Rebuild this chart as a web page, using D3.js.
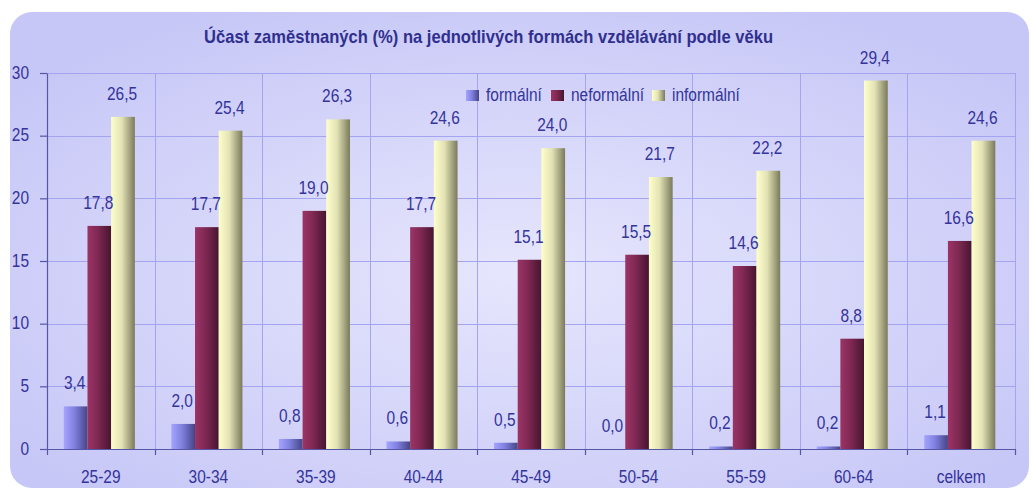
<!DOCTYPE html>
<html>
<head>
<meta charset="utf-8">
<script src="https://cdn.jsdelivr.net/npm/d3@7"></script>
<style>
  html, body { margin: 0; padding: 0; background: #ffffff; }
  svg { display: block; font-family: "Liberation Sans", Arial, sans-serif; }
</style>
</head>
<body>
<div id="chart"></div>
<script>
// data
const categories = ["25-29", "30-34", "35-39", "40-44", "45-49", "50-54", "55-59", "60-64", "celkem"];
const seriesNames = ["formální", "neformální", "informální"];
const formalni = [3.4, 2.0, 0.8, 0.6, 0.5, 0.0, 0.2, 0.2, 1.1];
const neformalni = [17.8, 17.7, 19.0, 17.7, 15.1, 15.5, 14.6, 8.8, 16.6];
const informalni = [26.5, 25.4, 26.3, 24.6, 24.0, 21.7, 22.2, 29.4, 24.6];
const yTicks = [0, 5, 10, 15, 20, 25, 30];
const title = "Účast zaměstnaných (%) na jednotlivých formách vzdělávání podle věku";

const seriesValues = [formalni, neformalni, informalni];

const width = 1032, height = 488;
const margin = { top: 73, right: 17, bottom: 39, left: 47 };
const textColor = "#34349a";
const sx = 0.86; // horizontal squeeze of the text, the reference font is narrow
const fs = 18;

const svg = d3.select("#chart").append("svg")
    .attr("width", width)
    .attr("height", height);

const defs = svg.append("defs");

const bg = defs.append("radialGradient")
    .attr("id", "bg")
    .attr("cx", "50%").attr("cy", "55%").attr("r", "65%");
bg.append("stop").attr("offset", "0%").attr("stop-color", "#e6e6fd");
bg.append("stop").attr("offset", "100%").attr("stop-color", "#c6c6f7");

const barColors = [
    ["#a4a4ff", "#8080e0", "#454585"],
    ["#9c3466", "#7e2852", "#471530"],
    ["#ffffcc", "#e2e2b4", "#7a7a5c"]
];
barColors.forEach((c, i) => {
    const g = defs.append("linearGradient")
        .attr("id", "bar" + i)
        .attr("x1", "0%").attr("x2", "100%").attr("y1", "0%").attr("y2", "0%");
    g.append("stop").attr("offset", "0%").attr("stop-color", c[0]);
    g.append("stop").attr("offset", "45%").attr("stop-color", c[1]);
    g.append("stop").attr("offset", "100%").attr("stop-color", c[2]);
});

// background panel
svg.append("rect")
    .attr("x", 10).attr("y", 12)
    .attr("width", 1019).attr("height", 476)
    .attr("rx", 22).attr("ry", 22)
    .attr("fill", "url(#bg)");

function addText(parent, x, y, str, anchor) {
    return parent.append("text")
        .attr("transform", `translate(${x},${y}) scale(${sx},1)`)
        .attr("text-anchor", anchor)
        .attr("font-size", fs)
        .attr("fill", textColor)
        .text(str);
}

// title
svg.append("text")
    .attr("x", 488.5)
    .attr("y", 43)
    .attr("text-anchor", "middle")
    .attr("font-size", 19)
    .attr("font-weight", "bold")
    .attr("fill", "#30308e")
    .attr("textLength", 569)
    .attr("lengthAdjust", "spacingAndGlyphs")
    .text(title);

const plotW = width - margin.left - margin.right;
const plotH = height - margin.top - margin.bottom;

const x = d3.scaleBand()
    .domain(categories)
    .range([margin.left, margin.left + plotW])
    .padding(0);

const xs = d3.scaleBand()
    .domain(seriesNames)
    .range([0, x.bandwidth()])
    .paddingInner(0)
    .paddingOuter(0.77)
    .align(0.46);

const y = d3.scaleLinear()
    .domain([0, 30])
    .range([margin.top + plotH, margin.top]);

// grid
const grid = svg.append("g").attr("stroke", "#a4a4f0").attr("stroke-width", 1);
grid.selectAll(".hg")
    .data(yTicks.filter(d => d > 0))
    .enter().append("line")
    .attr("x1", margin.left).attr("x2", margin.left + plotW)
    .attr("y1", d => Math.round(y(d)) + 0.5).attr("y2", d => Math.round(y(d)) + 0.5);

const bounds = categories.map(c => x(c)).concat([x(categories[categories.length - 1]) + x.bandwidth()]);
grid.selectAll(".vg")
    .data(bounds.slice(1))
    .enter().append("line")
    .attr("x1", d => Math.round(d) + 0.5).attr("x2", d => Math.round(d) + 0.5)
    .attr("y1", y(30)).attr("y2", y(0));

// bars
seriesValues.forEach((vals, si) => {
    const name = seriesNames[si];
    svg.append("g").selectAll("rect")
        .data(vals)
        .enter().append("rect")
        .attr("x", (d, i) => x(categories[i]) + xs(name))
        .attr("y", d => y(d))
        .attr("width", xs.bandwidth())
        .attr("height", d => y(0) - y(d))
        .attr("fill", `url(#bar${si})`);
});

// value labels on top of all bars
const fmt = v => v.toFixed(1).replace(".", ",");
const labels = svg.append("g");
seriesValues.forEach((vals, si) => {
    const name = seriesNames[si];
    vals.forEach((d, i) => {
        addText(labels, x(categories[i]) + xs(name) + xs.bandwidth() / 2 - 1, y(d) - 17, fmt(d), "middle");
    });
});

// axes
const axisColor = "#5656a6";
const yAxis = svg.append("g")
    .attr("transform", `translate(${margin.left},0)`)
    .call(d3.axisLeft(y).tickValues(yTicks).tickSize(7).tickSizeOuter(0));
yAxis.select(".domain").attr("stroke", axisColor).attr("stroke-width", 1.2);
yAxis.selectAll(".tick line").attr("stroke", axisColor).attr("stroke-width", 1.2);
yAxis.selectAll(".tick text")
    .attr("x", null).attr("dy", null)
    .attr("fill", textColor)
    .attr("font-size", fs)
    .attr("font-family", null)
    .attr("transform", `translate(-18,5) scale(${sx},1)`);

const xAxis = svg.append("g")
    .attr("transform", `translate(0,${y(0)})`)
    .call(d3.axisBottom(x).tickSize(0).tickSizeOuter(0));
xAxis.select(".domain").attr("stroke", axisColor).attr("stroke-width", 1.2);
xAxis.selectAll(".tick text")
    .attr("y", null).attr("dy", null)
    .attr("fill", textColor)
    .attr("font-size", fs)
    .attr("font-family", null)
    .attr("transform", `translate(0,34) scale(${sx},1)`);
xAxis.selectAll(".bt")
    .data(bounds)
    .enter().append("line")
    .attr("x1", d => Math.round(d) + 0.5).attr("x2", d => Math.round(d) + 0.5)
    .attr("y1", 0).attr("y2", 6)
    .attr("stroke", axisColor).attr("stroke-width", 1.2);

// legend
const legend = svg.append("g").attr("transform", "translate(466,90)");
const legendOffsets = [0, 85, 186];
seriesNames.forEach((name, i) => {
    const lg = legend.append("g").attr("transform", `translate(${legendOffsets[i]},0)`);
    lg.append("rect")
        .attr("width", 13).attr("height", 11)
        .attr("fill", `url(#bar${i})`);
    addText(lg, 20, 11, name, "start");
});
</script>
</body>
</html>
